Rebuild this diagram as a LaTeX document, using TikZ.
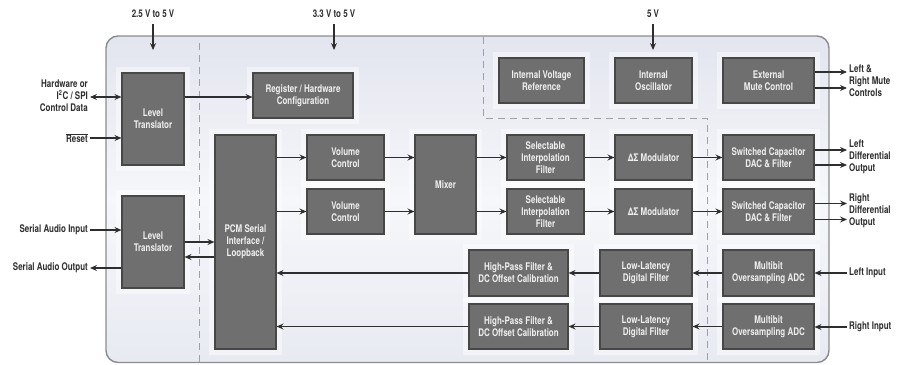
\documentclass[tikz,border=0pt]{standalone}
\usepackage{fontspec}
\setmainfont{TeX Gyre Heros}[FakeStretch=0.76]
\usetikzlibrary{positioning, arrows.meta, calc}
\definecolor{boxfill}{HTML}{6F6F6F}
\definecolor{boxline}{HTML}{474747}
\definecolor{boxtext}{HTML}{EFEFEF}
\definecolor{ink}{HTML}{2E2E2E}
\definecolor{rim}{HTML}{8C8C8C}
\definecolor{bgtop}{HTML}{E3E5EF}
\definecolor{bgmid}{HTML}{F6F7FA}
\definecolor{bgbot}{HTML}{E8EAF2}
\definecolor{dashc}{HTML}{A0A0A4}

\begin{document}
\begin{tikzpicture}[x=1pt, y=-1pt,
  blk/.style={draw=boxline, line width=1.1pt, fill=boxfill, text=boxtext,
              font=\bfseries\fontsize{10.5}{12}\selectfont, align=center, inner sep=2pt,
              preaction={draw=white, line width=12pt, draw opacity=0.45}},
  lbl/.style={text=ink, font=\bfseries\fontsize{10.5}{12}\selectfont, inner sep=2pt},
  arr/.style={draw=ink, line width=1.5pt, -{Stealth[length=7pt, width=6pt, inset=2.5pt]}},
  zone/.style={draw=dashc, line width=1pt, dash pattern=on 7pt off 5pt}]
  \useasboundingbox (0,0) rectangle (910,364);
  % chip outline
  \draw[rim, line width=1.4pt, rounded corners=12pt, top color=bgtop, bottom color=bgbot,
        middle color=bgmid] (106,36) rectangle (829,362.5);
  % supply zones
  \draw[zone] (199,43) -- (199,362);
  \draw[zone] (483,37) -- (483,118) -- (707,118) -- (707,362);

  % blocks
  \node[blk, minimum width=62pt, minimum height=92pt] (lt1) at (153,119) {Level\\Translator};
  \node[blk, minimum width=62pt, minimum height=92pt] (lt2) at (153,242) {Level\\Translator};
  \node[blk, minimum width=100pt, minimum height=45pt] (reg) at (303,95.5) {Register / Hardware\\Configuration};
  \node[blk, minimum width=61pt, minimum height=214pt] (pcm) at (245.5,242) {PCM Serial\\Interface /\\Loopback};
  \node[blk, minimum width=77pt, minimum height=45pt] (vc1) at (345.5,157.5) {Volume\\Control};
  \node[blk, minimum width=77pt, minimum height=45pt] (vc2) at (345.5,211.5) {Volume\\Control};
  \node[blk, minimum width=61pt, minimum height=99pt] (mix) at (445.5,184.5) {Mixer};
  \node[blk, minimum width=77pt, minimum height=45pt] (sif1) at (545.5,157.5) {Selectable\\Interpolation\\Filter};
  \node[blk, minimum width=77pt, minimum height=45pt] (sif2) at (545.5,211.5) {Selectable\\Interpolation\\Filter};
  \node[blk, minimum width=77pt, minimum height=45pt] (dsm1) at (653.5,157.5) {ΔΣ Modulator};
  \node[blk, minimum width=77pt, minimum height=45pt] (dsm2) at (653.5,211.5) {ΔΣ Modulator};
  \node[blk, minimum width=91pt, minimum height=45pt] (dac1) at (768.5,157.5) {Switched Capacitor\\DAC \& Filter};
  \node[blk, minimum width=91pt, minimum height=45pt] (dac2) at (768.5,211.5) {Switched Capacitor\\DAC \& Filter};
  \node[blk, minimum width=85pt, minimum height=45pt] (vref) at (541.5,80.5) {Internal Voltage\\Reference};
  \node[blk, minimum width=77pt, minimum height=45pt] (osc) at (653.5,80.5) {Internal\\Oscillator};
  \node[blk, minimum width=91pt, minimum height=45pt] (mute) at (768.5,80.5) {External\\Mute Control};
  \node[blk, minimum width=99pt, minimum height=46pt] (hpf1) at (518.5,273) {High-Pass Filter \&\\DC Offset Calibration};
  \node[blk, minimum width=99pt, minimum height=45pt] (hpf2) at (518.5,326.5) {High-Pass Filter \&\\DC Offset Calibration};
  \node[blk, minimum width=92pt, minimum height=46pt] (lldf1) at (646,273) {Low-Latency\\Digital Filter};
  \node[blk, minimum width=92pt, minimum height=45pt] (lldf2) at (646,326.5) {Low-Latency\\Digital Filter};
  \node[blk, minimum width=91pt, minimum height=46pt] (adc1) at (768.5,273) {Multibit\\Oversampling ADC};
  \node[blk, minimum width=91pt, minimum height=45pt] (adc2) at (768.5,326.5) {Multibit\\Oversampling ADC};

  % supply labels
  \node[lbl] (va) at (153,14) {2.5 V to 5 V};
  \node[lbl] (vb) at (334,14) {3.3 V to 5 V};
  \node[lbl] (vc) at (653,14) {5 V};
  \coordinate (vaend) at (153,50);
  \coordinate (vbend) at (334,50);
  \coordinate (vcend) at (653,50);
  \draw[arr, shorten <=4pt] (va) -- (vaend);
  \draw[arr, shorten <=4pt] (vb) -- (vbend);
  \draw[arr, shorten <=4pt] (vc) -- (vcend);

  % pins on the left
  \node[lbl, align=right, anchor=east] (hw) at (90,96) {Hardware or\\I\textsuperscript{2}C / SPI\\Control Data};
  \node[lbl, anchor=east] (rst) at (90,138) {$\overline{\mbox{Reset}}$};
  \node[lbl, anchor=east] (sai) at (90,230) {Serial Audio Input};
  \node[lbl, anchor=east] (sao) at (90,268) {Serial Audio Output};
  % pins on the right
  \node[lbl, align=left, anchor=west] (mc) at (847,80.5) {Left \&\\Right Mute\\Controls};
  \node[lbl, align=left, anchor=west] (ldo) at (847,157) {Left\\Differential\\Output};
  \node[lbl, align=left, anchor=west] (rdo) at (847,211) {Right\\Differential\\Output};
  \node[lbl, anchor=west] (lin) at (847,273) {Left Input};
  \node[lbl, anchor=west] (rin) at (847,327) {Right Input};

  % control path
  \draw[arr, {Stealth[length=7pt, width=6pt, inset=2.5pt]}-{Stealth[length=7pt, width=6pt, inset=2.5pt]}]
    (hw.east |- 0,97) -- (lt1.west |- 0,97);
  \draw[arr] (rst) -- (lt1.west |- rst);
  \draw[arr] (lt1.east |- 0,97) -- (reg.west |- 0,97);
  % serial port
  \draw[arr] (sai) -- (lt2.west |- sai);
  \draw[arr] (lt2.west |- sao) -- (sao);
  \draw[arr] (lt2.east) -- (pcm.west |- lt2.east);
  \draw[arr] ([yshift=-15pt]pcm.west |- lt2.east) -- ([yshift=-15pt]lt2.east);
  % playback chains
  \foreach \n in {1,2}{
    \draw[arr] (pcm.east |- vc\n) -- (vc\n);
    \draw[arr] (vc\n) -- (mix.west |- vc\n);
    \draw[arr] (mix.east |- sif\n) -- (sif\n);
    \draw[arr] (sif\n) -- (dsm\n);
    \draw[arr] (dsm\n) -- (dac\n);
  }
  \draw[arr] ([yshift=7.5pt]dac1.east) -- ([yshift=7.5pt]dac1.east -| ldo.west);
  \draw[arr] ([yshift=-7.5pt]dac1.east) -- ([yshift=-7.5pt]dac1.east -| ldo.west);
  \draw[arr] ([yshift=8pt]dac2.east) -- ([yshift=8pt]dac2.east -| rdo.west);
  \draw[arr] ([yshift=-8pt]dac2.east) -- ([yshift=-8pt]dac2.east -| rdo.west);
  \draw[arr] ([yshift=8.5pt]mute.east) -- ([yshift=8.5pt]mute.east -| mc.west);
  \draw[arr] ([yshift=-7.5pt]mute.east) -- ([yshift=-7.5pt]mute.east -| mc.west);
  % record chains
  \draw[arr] (lin) -- (adc1);
  \draw[arr] (rin) -- (adc2.east |- rin);
  \foreach \n in {1,2}{
    \draw[arr] (adc\n) -- (lldf\n);
    \draw[arr] (lldf\n) -- (hpf\n);
    \draw[arr] (hpf\n) -- (pcm.east |- hpf\n);
  }
\end{tikzpicture}
\end{document}
